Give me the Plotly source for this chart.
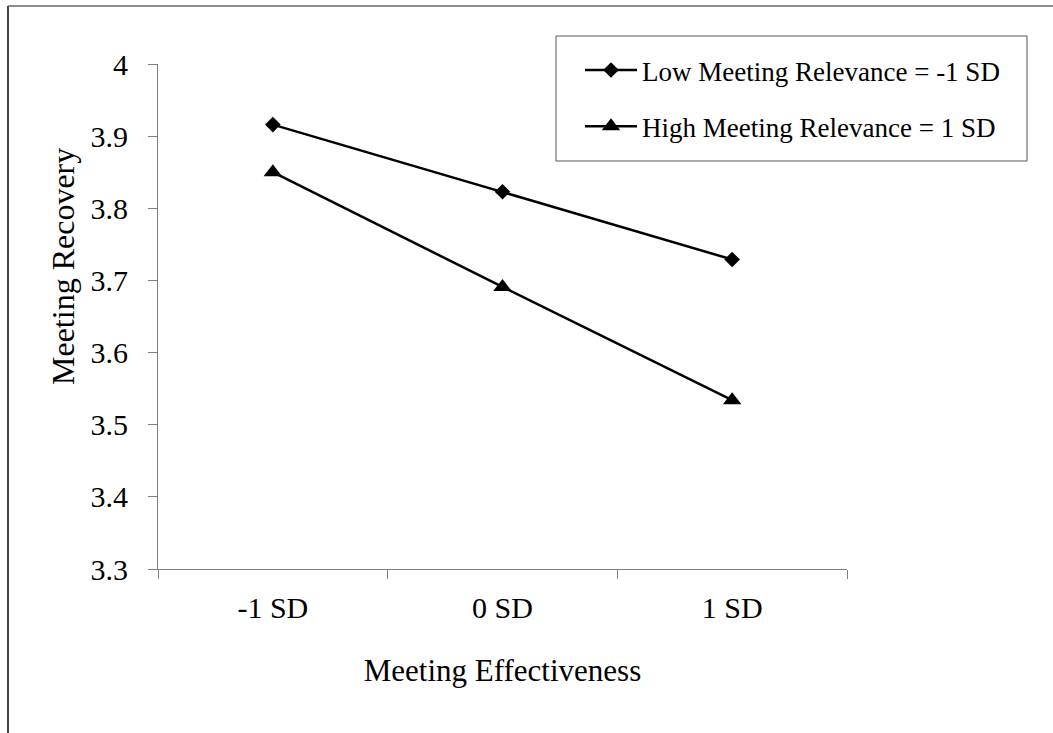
import plotly.graph_objects as go

categories = ["-1 SD", "0 SD", "1 SD"]
low_relevance = [3.916, 3.823, 3.729]
high_relevance = [3.850, 3.691, 3.534]
series_names = ["Low Meeting Relevance = -1 SD", "High Meeting Relevance = 1 SD"]
y_ticks = [3.3, 3.4, 3.5, 3.6, 3.7, 3.8, 3.9, 4.0]
y_tick_text = ["3.3", "3.4", "3.5", "3.6", "3.7", "3.8", "3.9", "4"]
x_title = "Meeting Effectiveness"
y_title = "Meeting Recovery"

FONT = "Liberation Serif"
W, H = 1053, 733
L, R, T, B = 158, 206, 64, 164
pw, ph = W - L - R, H - T - B

def px_x(x):
    return (x - L) / pw

def px_y(y):
    return (H - B - y) / ph

fig = go.Figure()
fig.add_trace(go.Scatter(
    x=categories, y=low_relevance, name=series_names[0], mode="lines+markers",
    line=dict(color="black", width=2.5),
    marker=dict(symbol="diamond", size=12, color="black"),
    legendgroup="a",
))
fig.add_trace(go.Scatter(
    x=categories, y=high_relevance, name=series_names[1], mode="lines+markers",
    line=dict(color="black", width=2.5),
    marker=dict(symbol="triangle-up", size=16, color="black"),
    legendgroup="b",
))

fig.update_layout(
    width=W, height=H,
    margin=dict(l=L, r=R, t=T, b=B, autoexpand=False),
    paper_bgcolor="white", plot_bgcolor="white",
    font=dict(family=FONT, color="black", size=30),
    showlegend=True,
    legend=dict(
        x=px_x(580), y=px_y(46), xanchor="left", yanchor="top",
        borderwidth=0, bgcolor="rgba(0,0,0,0)",
        font=dict(family=FONT, size=27, color="black"),
        tracegroupgap=18, traceorder="grouped",
        itemwidth=52,
    ),
    xaxis=dict(
        type="category", range=[-0.5, 2.5],
        showline=True, linecolor="#808080", linewidth=1,
        ticks="outside", ticklen=9, tickcolor="#808080", tickson="boundaries",
        showgrid=False, zeroline=False,
        tickfont=dict(family=FONT, size=30),
        ticklabelstandoff=12,
        title=dict(text=x_title, font=dict(family=FONT, size=31), standoff=36),
    ),
    yaxis=dict(
        range=[3.3, 4.0], tickvals=y_ticks, ticktext=y_tick_text,
        showline=True, linecolor="#808080", linewidth=1,
        ticks="outside", ticklen=9, tickcolor="#808080",
        showgrid=False, zeroline=False,
        tickfont=dict(family=FONT, size=30),
        ticklabelstandoff=14,
    ),
    annotations=[dict(
        text=y_title, textangle=-90, showarrow=False,
        xref="paper", yref="paper", x=px_x(63), y=px_y(267),
        xanchor="center", yanchor="middle",
        font=dict(family=FONT, size=32, color="black"),
    )],
)

# legend frame
fig.add_shape(type="rect", xref="paper", yref="paper",
              x0=px_x(556), x1=px_x(1027), y0=px_y(161), y1=px_y(36),
              line=dict(color="#555555", width=1), layer="below")

# outer frame (left and top edges visible)
fig.add_shape(type="line", xref="paper", yref="paper",
              x0=px_x(8), x1=px_x(8), y0=px_y(6), y1=px_y(H + 5),
              line=dict(color="#444444", width=2))
fig.add_shape(type="line", xref="paper", yref="paper",
              x0=px_x(8), x1=px_x(W + 5), y0=px_y(6), y1=px_y(6),
              line=dict(color="#666666", width=1.5))

fig.write_html("out.html", config={"displayModeBar": False},
               post_script="document.body.style.margin='0';")
